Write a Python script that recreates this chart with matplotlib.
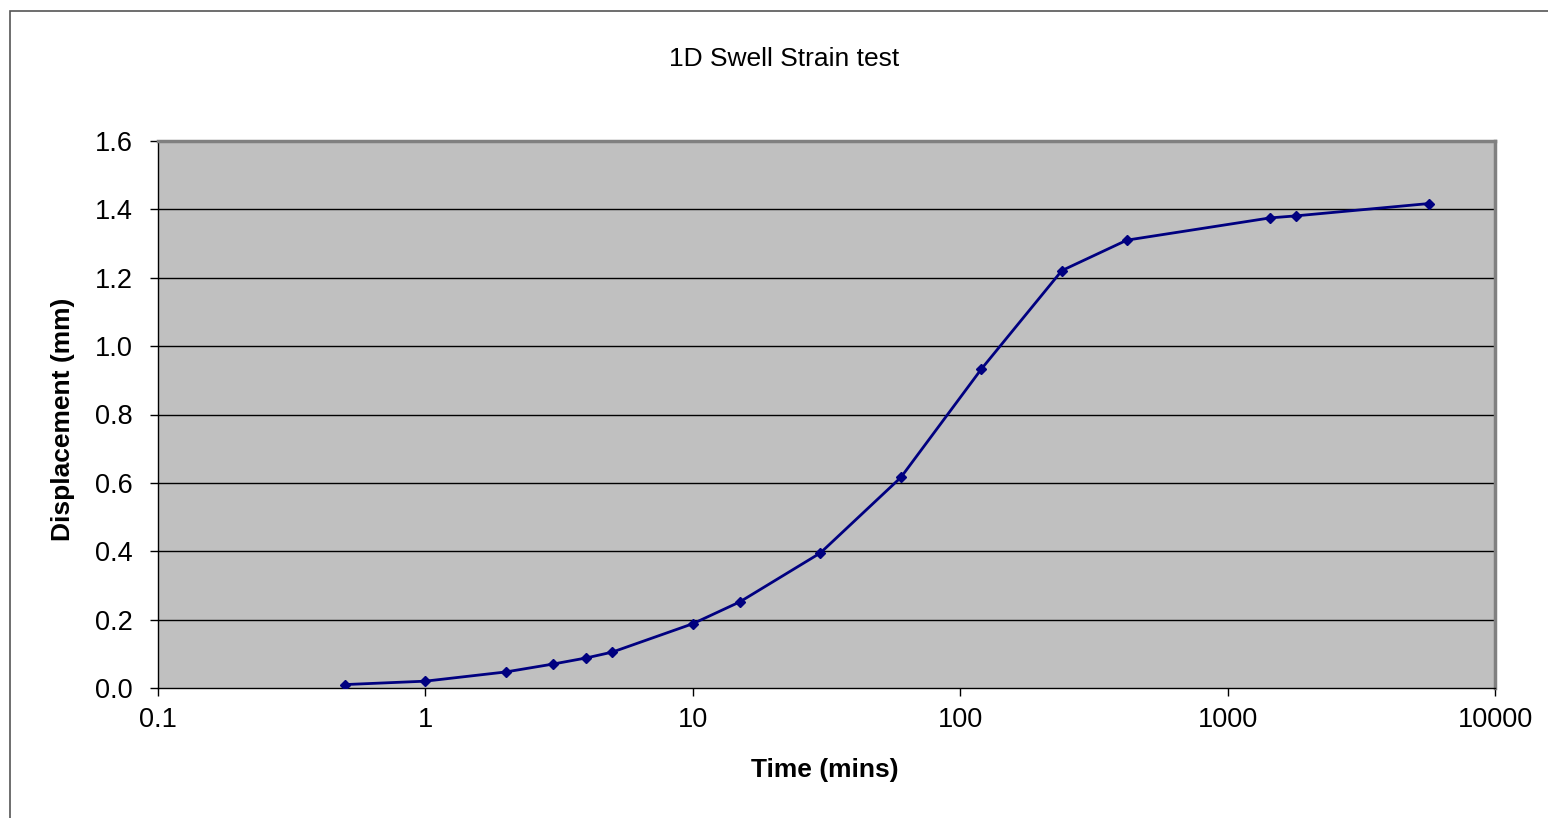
#!/usr/bin/env python3
import matplotlib
matplotlib.use("Agg")
import matplotlib.pyplot as plt
from matplotlib.patches import Rectangle
from matplotlib.ticker import FixedLocator, FixedFormatter, NullLocator

# swell test readings
time_mins = [0.5, 1, 2, 3, 4, 5, 10, 15, 30, 60, 120, 240, 420, 1440, 1800, 5650]
displacement_mm = [0.010, 0.020, 0.047, 0.070, 0.088, 0.105, 0.188, 0.252, 0.395,
                   0.616, 0.933, 1.221, 1.310, 1.375, 1.381, 1.417]

x_ticks = [0.1, 1, 10, 100, 1000, 10000]
x_tick_labels = ["0.1", "1", "10", "100", "1000", "10000"]
y_ticks = [0.0, 0.2, 0.4, 0.6, 0.8, 1.0, 1.2, 1.4, 1.6]

plt.rcParams['font.family'] = ['Liberation Sans', 'DejaVu Sans']

W, H = 1548, 818
fig = plt.figure(figsize=(W / 100, H / 100), dpi=100)
ax = fig.add_axes([158 / W, 1 - 688 / H, (1495 - 158) / W, (688 - 141) / H])

# outer chart border (runs off the right/bottom edges)
fig.patches.append(Rectangle((9.5 / W, -0.1), 1.2, 1.1 - 11 / H, transform=fig.transFigure,
                             fill=False, edgecolor='#555555', linewidth=1.2))

ax.set_facecolor('#C0C0C0')
ax.plot(time_mins, displacement_mm, color='#000080', linewidth=2,
        marker='D', markersize=5.5, zorder=3)

ax.set_xscale('log')
ax.set_xlim(0.1, 10000)
ax.set_ylim(0, 1.6)
ax.xaxis.set_major_locator(FixedLocator(x_ticks))
ax.xaxis.set_major_formatter(FixedFormatter(x_tick_labels))
ax.xaxis.set_minor_locator(NullLocator())
ax.set_yticks(y_ticks)
ax.set_yticklabels([f"{v:.1f}" for v in y_ticks])

for v in y_ticks[1:-1]:
    ax.axhline(v, color='black', linewidth=1, zorder=1)

ax.spines['top'].set_color('#808080')
ax.spines['right'].set_color('#808080')
ax.spines['top'].set_linewidth(2.5)
ax.spines['right'].set_linewidth(2.5)
ax.spines['left'].set_color('black')
ax.spines['bottom'].set_color('black')
ax.spines['left'].set_linewidth(1)
ax.spines['bottom'].set_linewidth(1)

ax.tick_params(axis='both', direction='out', length=6, width=1, labelsize=19.5,
               colors='black')
ax.tick_params(axis='x', pad=8)
ax.tick_params(axis='y', pad=12)

fig.text(784 / W, 1 - 59 / H, '1D Swell Strain test', ha='center', va='center', fontsize=19)
fig.text(825 / W, 1 - 770 / H, 'Time (mins)', ha='center', va='center',
         fontsize=19, fontweight='bold')
fig.text(63 / W, 1 - 419 / H, 'Displacement (mm)', ha='center', va='center',
         fontsize=19, fontweight='bold', rotation=90)

fig.savefig('out.png', dpi=100)
